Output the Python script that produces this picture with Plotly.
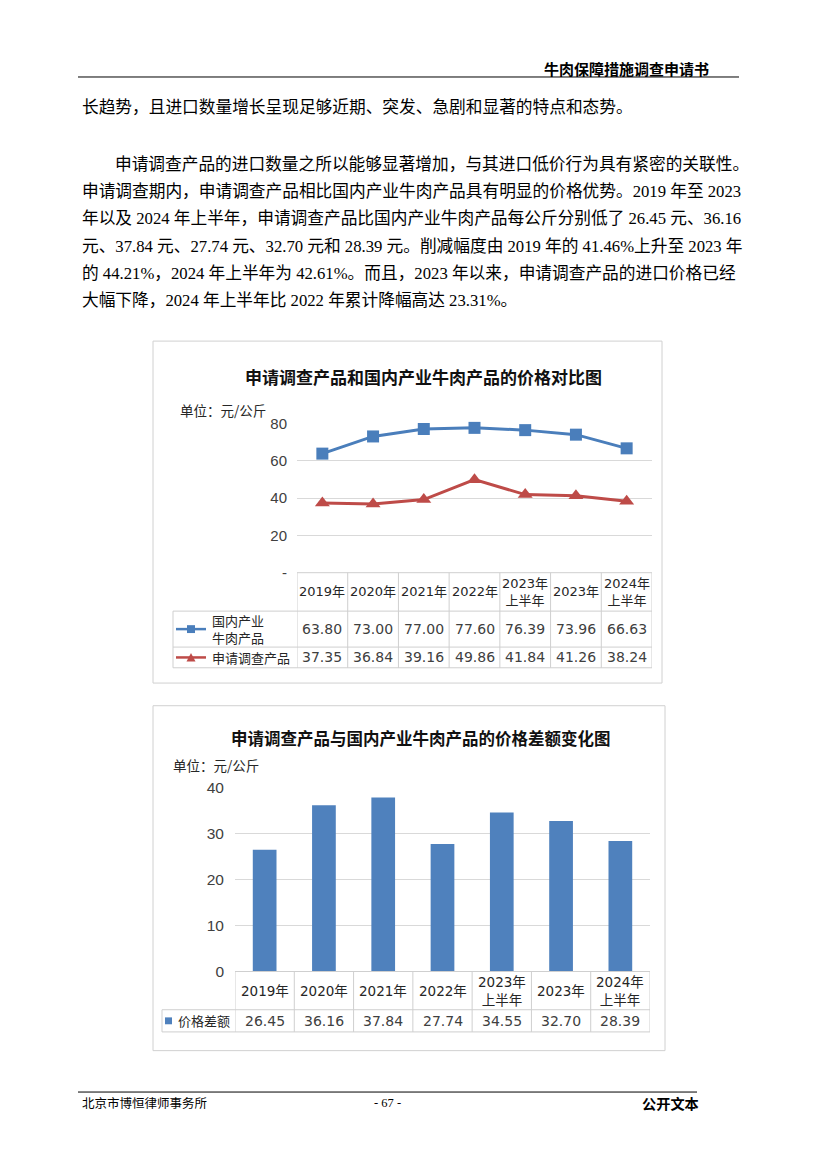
import plotly.graph_objects as go

W, H = 827, 1170

# ---------------- data ----------------
categories = ["2019年", "2020年", "2021年", "2022年", "2023年上半年", "2023年", "2024年上半年"]
cat_labels = ["2019年", "2020年", "2021年", "2022年", "2023年<br>上半年", "2023年", "2024年<br>上半年"]
domestic_price = [63.80, 73.00, 77.00, 77.60, 76.39, 73.96, 66.63]
import_price = [37.35, 36.84, 39.16, 49.86, 41.84, 41.26, 38.24]
price_gap = [26.45, 36.16, 37.84, 27.74, 34.55, 32.70, 28.39]
y1_ticks = [0, 20, 40, 60, 80]
y1_ticktext = ["-", "20", "40", "60", "80"]
y2_ticks = [0, 10, 20, 30, 40]

header_text = "牛肉保障措施调查申请书"
body_first = "长趋势，且进口数量增长呈现足够近期、突发、急剧和显著的特点和态势。"
body_para = [
    "申请调查产品的进口数量之所以能够显著增加，与其进口低价行为具有紧密的关联性。",
    "申请调查期内，申请调查产品相比国内产业牛肉产品具有明显的价格优势。2019 年至 2023",
    "年以及 2024 年上半年，申请调查产品比国内产业牛肉产品每公斤分别低了 26.45 元、36.16",
    "元、37.84 元、27.74 元、32.70 元和 28.39 元。削减幅度由 2019 年的 41.46%上升至 2023 年",
    "的 44.21%，2024 年上半年为 42.61%。而且，2023 年以来，申请调查产品的进口价格已经",
    "大幅下降，2024 年上半年比 2022 年累计降幅高达 23.31%。",
]
title1 = "申请调查产品和国内产业牛肉产品的价格对比图"
title2 = "申请调查产品与国内产业牛肉产品的价格差额变化图"
unit_text = "单位：元/公斤"
series1_name = "国内产业<br>牛肉产品"
series2_name = "申请调查产品"
series3_name = "价格差额"

BLUE = "#4a7ebb"
RED = "#be4b48"
BAR = "#4f81bd"
GRID = "#d9d9d9"
TBL = "#cfcfcf"

SERIF = "Liberation Serif, Noto Sans CJK SC"
SANS = "Liberation Sans, Noto Sans CJK SC"
TFONT = "DejaVu Sans, Noto Sans CJK SC"
CJK = "Noto Sans CJK SC"


def px(x):
    return x / W


def py(y):
    return 1 - y / H


fig = go.Figure()

# ---------------- chart 1: lines ----------------
fig.add_trace(go.Scatter(
    x=categories, y=domestic_price, mode="lines+markers", xaxis="x", yaxis="y",
    line=dict(color=BLUE, width=3), marker=dict(symbol="square", size=12, color=BLUE),
    cliponaxis=False, showlegend=False, name="国内产业牛肉产品"))
fig.add_trace(go.Scatter(
    x=categories, y=import_price, mode="lines+markers", xaxis="x", yaxis="y",
    line=dict(color=RED, width=3), marker=dict(symbol="triangle-up", size=13, color=RED),
    cliponaxis=False, showlegend=False, name="申请调查产品"))

# ---------------- chart 2: bars ----------------
fig.add_trace(go.Bar(
    x=categories, y=price_gap, xaxis="x2", yaxis="y2", marker=dict(color=BAR, line=dict(width=0)),
    showlegend=False, name="价格差额"))

# table geometry (pixels)
c1_top, c1_hdr, c1_r1, c1_bot = 572, 611, 647.5, 668.5
c1_left, c1_axis, c1_right = 173, 297, 652
c2_top, c2_hdr, c2_bot = 976.7, 1015.5, 1038
c2_left, c2_axis, c2_right = 162, 235, 650

fig.update_layout(
    width=W, height=H, margin=dict(l=0, r=0, t=0, b=0),
    paper_bgcolor="white", plot_bgcolor="white",
    bargap=0.6,
    xaxis=dict(domain=[px(c1_axis), px(c1_right)], type="category", categoryarray=categories,
               range=[-0.5, 6.5], showticklabels=False, showgrid=False, zeroline=False,
               showline=False, ticks="", anchor="y"),
    yaxis=dict(domain=[py(c1_top), py(420.5)], range=[0, 80], tickvals=y1_ticks, ticktext=y1_ticktext,
               showgrid=True, gridcolor=GRID, gridwidth=1, zeroline=False, showline=False, ticks="",
               tickfont=dict(family=SANS, size=15, color="#404040"), ticklabelstandoff=9, anchor="x"),
    xaxis2=dict(domain=[px(c2_axis), px(c2_right)], type="category", categoryarray=categories,
                range=[-0.5, 6.5], showticklabels=False, showgrid=False, zeroline=False,
                showline=False, ticks="", anchor="y2"),
    yaxis2=dict(domain=[py(c2_top), py(790)], range=[0, 40], tickvals=y2_ticks,
                showgrid=True, gridcolor=GRID, gridwidth=1, zeroline=False, showline=False, ticks="",
                tickfont=dict(family=SANS, size=15.5, color="#404040"), ticklabelstandoff=10, anchor="x2"),
)

shapes = []
ann = []


def hline(x0, x1, y, color=TBL, width=1):
    shapes.append(dict(type="line", xref="paper", yref="paper", x0=px(x0), x1=px(x1),
                       y0=py(y), y1=py(y), line=dict(color=color, width=width)))


def vline(x, y0, y1, color=TBL, width=1):
    shapes.append(dict(type="line", xref="paper", yref="paper", x0=px(x), x1=px(x),
                       y0=py(y0), y1=py(y1), line=dict(color=color, width=width)))


def text(x, y, s, size, family=SERIF, color="black", xanchor="left", weight="normal", xref="paper"):
    ann.append(dict(x=x if xref != "paper" else px(x), y=py(y), xref=xref, yref="paper", text=s,
                    showarrow=False, xanchor=xanchor, yanchor="middle",
                    font=dict(family=family, size=size, color=color, weight=weight)))


# ---------------- page header / body / footer ----------------
text(711, 60, header_text, 15, family=CJK, xanchor="right", weight="bold")
hline(78, 739, 69, color="black", width=1)
text(80, 100, body_first, 16.7)
para_y = [158, 185.5, 213, 240.5, 268, 295.5]
for i, (line, yy) in enumerate(zip(body_para, para_y)):
    text(113 if i == 0 else 80, yy, line, 16.7)
hline(78, 697, 1099, color="black", width=1)
text(80, 1110, "北京市博恒律师事务所", 12.5, family=CJK)
text(387, 1110, "- 67 -", 12.5, family="Liberation Serif", xanchor="center")
text(701, 1110, "公开文本", 14.2, family=CJK, xanchor="right", weight="bold")

# ---------------- chart 1 frame / titles ----------------
shapes.append(dict(type="rect", xref="paper", yref="paper", x0=px(153), x1=px(662), y0=py(337), y1=py(684),
                   line=dict(color="#d0d0d0", width=1), fillcolor="rgba(0,0,0,0)"))
text(423.5, 373, title1, 17, family=CJK, xanchor="center", weight="bold", color="#111111")
text(178, 407, unit_text, 13.5, family=CJK, color="#262626")

# table 1 lines
hline(c1_axis, c1_right, c1_top)
for yy in (c1_hdr, c1_r1, c1_bot):
    hline(c1_left, c1_right, yy)
vline(c1_left, c1_hdr, c1_bot)
for i in range(len(categories) + 1):
    shapes.append(dict(type="line", xref="x", yref="paper", x0=i - 0.5, x1=i - 0.5,
                       y0=py(c1_top), y1=py(c1_bot), line=dict(color=TBL, width=1)))
# table 1 text
for cat, lab, v1, v2 in zip(categories, cat_labels, domestic_price, import_price):
    text(cat, (c1_top + c1_hdr) / 2, lab, 13, family=TFONT, xanchor="center", xref="x", color="#262626")
    text(cat, (c1_hdr + c1_r1) / 2, f"{v1:.2f}", 14, family=TFONT, xanchor="center", xref="x", color="#404040")
    text(cat, (c1_r1 + c1_bot) / 2, f"{v2:.2f}", 14, family=TFONT, xanchor="center", xref="x", color="#404040")
# legend keys in table 1
r1y = (c1_hdr + c1_r1) / 2
r2y = (c1_r1 + c1_bot) / 2
hline(176, 206, r1y, color=BLUE, width=2.5)
shapes.append(dict(type="rect", xref="paper", yref="paper", x0=px(187), x1=px(195), y0=py(r1y - 4), y1=py(r1y + 4),
                   line=dict(width=0), fillcolor=BLUE))
hline(176, 206, r2y, color=RED, width=2.5)
shapes.append(dict(type="path", xref="paper", yref="paper",
                   path=f"M {px(186.5)} {py(r2y + 4)} L {px(195.5)} {py(r2y + 4)} L {px(191)} {py(r2y - 4.5)} Z",
                   line=dict(width=0), fillcolor=RED))
text(210, r1y, series1_name, 13, family=CJK, color="#262626")
text(210, r2y, series2_name, 13, family=CJK, color="#262626")

# ---------------- chart 2 frame / titles ----------------
shapes.append(dict(type="rect", xref="paper", yref="paper", x0=px(153), x1=px(665), y0=py(707), y1=py(1057),
                   line=dict(color="#d0d0d0", width=1), fillcolor="rgba(0,0,0,0)"))
text(420.5, 740, title2, 16.5, family=CJK, xanchor="center", weight="bold", color="#111111")
text(171, 767, unit_text, 13.5, family=CJK, color="#262626")

hline(c2_axis, c2_right, c2_top)
for yy in (c2_hdr, c2_bot):
    hline(c2_left, c2_right, yy)
vline(c2_left, c2_hdr, c2_bot)
for i in range(len(categories) + 1):
    shapes.append(dict(type="line", xref="x2", yref="paper", x0=i - 0.5, x1=i - 0.5,
                       y0=py(c2_top), y1=py(c2_bot), line=dict(color=TBL, width=1)))
for cat, lab, v in zip(categories, cat_labels, price_gap):
    text(cat, (c2_top + c2_hdr) / 2, lab, 13.5, family=TFONT, xanchor="center", xref="x2", color="#262626")
    text(cat, (c2_hdr + c2_bot) / 2, f"{v:.2f}", 14, family=TFONT, xanchor="center", xref="x2", color="#404040")
ry = (c2_hdr + c2_bot) / 2
shapes.append(dict(type="rect", xref="paper", yref="paper", x0=px(165), x1=px(172), y0=py(ry - 3.5), y1=py(ry + 3.5),
                   line=dict(width=0), fillcolor=BAR))
text(176, ry, series3_name, 13, family=CJK, color="#262626")

fig.update_layout(shapes=shapes, annotations=ann)
fig.write_html("out.html")
